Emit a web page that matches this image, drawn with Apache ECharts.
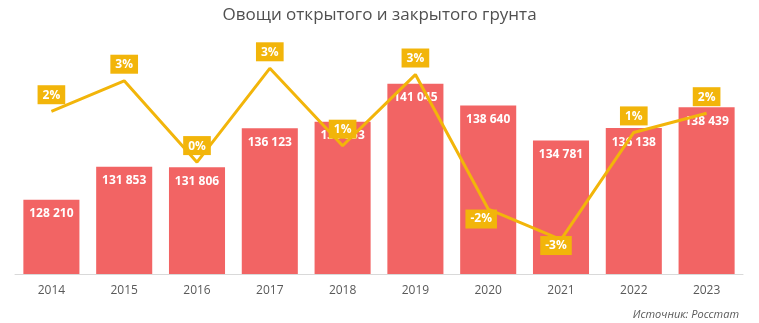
<!DOCTYPE html>
<html>
<head>
<meta charset="utf-8">
<script src="https://cdn.jsdelivr.net/npm/echarts@6/dist/echarts.min.js"></script>
<style>
  html, body { margin: 0; padding: 0; background: #fff; }
  #chart { width: 759px; height: 323px; }
</style>
</head>
<body>
<div id="chart"></div>
<script>
// Производство овощей (тыс. т) и годовой прирост (%)
const years = ['2014', '2015', '2016', '2017', '2018', '2019', '2020', '2021', '2022', '2023'];
const volume = [128210, 131853, 131806, 136123, 136853, 141045, 138640, 134781, 136138, 138439];
const growth = [1.76, 2.84, -0.04, 3.28, 0.54, 3.06, -1.70, -2.78, 1.01, 1.69];

const FONT = '"Open Sans", "Liberation Sans", sans-serif';
const BAR = '#f26464';
const LINE = '#f2b50a';

const fmtThousands = v => String(v).replace(/\B(?=(\d{3})+(?!\d))/g, ' ');

const growthData = growth.map(v => {
  const item = { value: v };
  if (v < -1) {
    item.label = { position: 'inside', offset: v < -2.5 ? [-5, 6] : [-7, 10] };
  }
  return item;
});

const chart = echarts.init(document.getElementById('chart'));
chart.setOption({
  animation: false,
  textStyle: { fontFamily: FONT },
  title: {
    text: 'Овощи открытого и закрытого грунта',
    left: 'center',
    top: 2,
    textStyle: { fontFamily: FONT, fontSize: 17, fontWeight: 'normal', color: '#505050' }
  },
  graphic: [{
    type: 'text',
    right: 20,
    bottom: 3,
    style: {
      text: 'Источник: Росстат',
      fontFamily: FONT,
      fontSize: 11,
      fontStyle: 'italic',
      fill: '#595959'
    }
  }],
  grid: { left: 15, right: 16, top: 48, bottom: 49 },
  xAxis: {
    type: 'category',
    data: years,
    axisLine: { onZero: false, lineStyle: { color: '#d9d9d9', width: 1 } },
    axisTick: { show: false },
    axisLabel: { color: '#595959', fontSize: 12, margin: 11, fontFamily: FONT }
  },
  yAxis: [
    { type: 'value', min: 120000, max: 145000, show: false, splitLine: { show: false } },
    { type: 'value', min: -4, max: 4, show: false, splitLine: { show: false } }
  ],
  series: [
    {
      type: 'bar',
      data: volume,
      yAxisIndex: 0,
      barCategoryGap: '23%',
      itemStyle: { color: BAR },
      z: 2,
      label: {
        show: true,
        position: 'insideTop',
        distance: 8,
        color: '#fff',
        fontSize: 12,
        fontWeight: 'bold',
        fontFamily: FONT,
        formatter: p => fmtThousands(p.value)
      }
    },
    {
      type: 'line',
      data: growthData,
      yAxisIndex: 1,
      symbol: 'circle',
      symbolSize: 0.1,
      showSymbol: true,
      z: 5,
      lineStyle: { color: LINE, width: 3 },
      itemStyle: { color: LINE },
      label: {
        show: true,
        position: 'top',
        distance: 7,
        color: '#fff',
        backgroundColor: LINE,
        padding: [4, 5, 3, 5],
        fontSize: 12,
        fontWeight: 'bold',
        fontFamily: FONT,
        formatter: p => Math.round(p.value) + '%'
      }
    }
  ]
});
</script>
</body>
</html>
